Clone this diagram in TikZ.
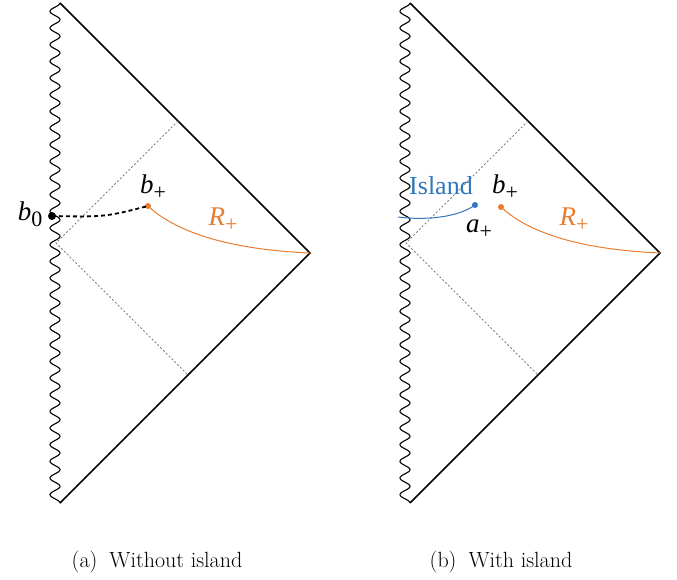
\documentclass[tikz,border=0pt]{standalone}
\usepackage{fontspec}
\newfontfamily\labfont{Liberation Serif}
\usetikzlibrary{calc}
\definecolor{orng}{RGB}{232,125,48}
\definecolor{blu}{RGB}{48,118,188}
\newcommand\lbl[2]{{\fontsize{27}{28}\selectfont\labfont\itshape #1}\raisebox{-6pt}{\fontsize{22}{22}\selectfont\labfont #2}}
\begin{document}
\begin{tikzpicture}[x=1pt,y=-1pt,
  edge/.style={line width=1.7pt,line join=miter},
  wave/.style={line width=1.1pt},
  nullray/.style={gray,line width=0.9pt,dash pattern=on 2pt off 2pt},
  lab/.style={inner sep=0pt,anchor=center},
  captxt/.style={inner sep=0pt,font=\fontsize{22}{24}\selectfont}]
\useasboundingbox (0,0) rectangle (677,580);
\foreach \dx/\nm in {0/L,350/R}{
  \begin{scope}[xshift=\dx pt]
  \coordinate (top\nm) at (60,3);
  \coordinate (rt\nm) at (310,253);
  \coordinate (bot\nm) at (60,503);
  \coordinate (mid\nm) at (56,243);
  \coordinate (up\nm) at (178,121);
  \coordinate (dn\nm) at (188,375);
  \draw[wave] plot[domain=0:500,samples=700,smooth] ({55+5*cos(21.6*\x)},{3+\x});
  \draw[edge] (top\nm) -- (rt\nm) -- (bot\nm);
  \draw[nullray] (up\nm) -- (mid\nm) -- (dn\nm);
  \end{scope}
}
% panel (a)
\node[circle,fill=black,inner sep=0pt,minimum size=8pt] (b0) at (52,216) {};
\node[circle,fill=orng,inner sep=0pt,minimum size=6pt] (bpL) at (148,206) {};
\draw[line width=1.8pt,dash pattern=on 4pt off 3pt] (b0.center) .. controls (105,217) .. (bpL.center);
\draw[orng,line width=1pt] (bpL.center) .. controls (180,236) and (240,250) .. (rtL);
\node[lab] (lb0) at (30,214) {\lbl{b}{0}};
\node[lab] (lbpL) at (153,187) {\lbl{b}{+}};
\node[lab,text=orng] (lRL) at (223,220) {\lbl{R}{+}};
% panel (b)
\coordinate (isl) at (398,217);
\node[circle,fill=blu,inner sep=0pt,minimum size=6pt] (ap) at (475,205) {};
\node[circle,fill=orng,inner sep=0pt,minimum size=6pt] (bpR) at (501,207) {};
\draw[blu,line width=1pt] (isl) .. controls (430,221) and (460,216) .. (ap.center);
\draw[orng,line width=1pt] (bpR.center) .. controls (533,237) and (592,250) .. (rtR);
\node[lab,text=blu,font=\fontsize{26}{27}\selectfont\labfont] (lisl) at (441,186) {Island};
\node[lab] (lbpR) at (505,187) {\lbl{b}{+}};
\node[lab] (lap) at (479,229) {\lbl{a}{+}};
\node[lab,text=orng] (lRR) at (574,220) {\lbl{R}{+}};
% captions
\node[captxt] (ca) at (157,562) {(a)\hspace{0.55em}Without island};
\node[captxt] (cb) at (501,562) {(b)\hspace{0.55em}With island};
\end{tikzpicture}
\end{document}
